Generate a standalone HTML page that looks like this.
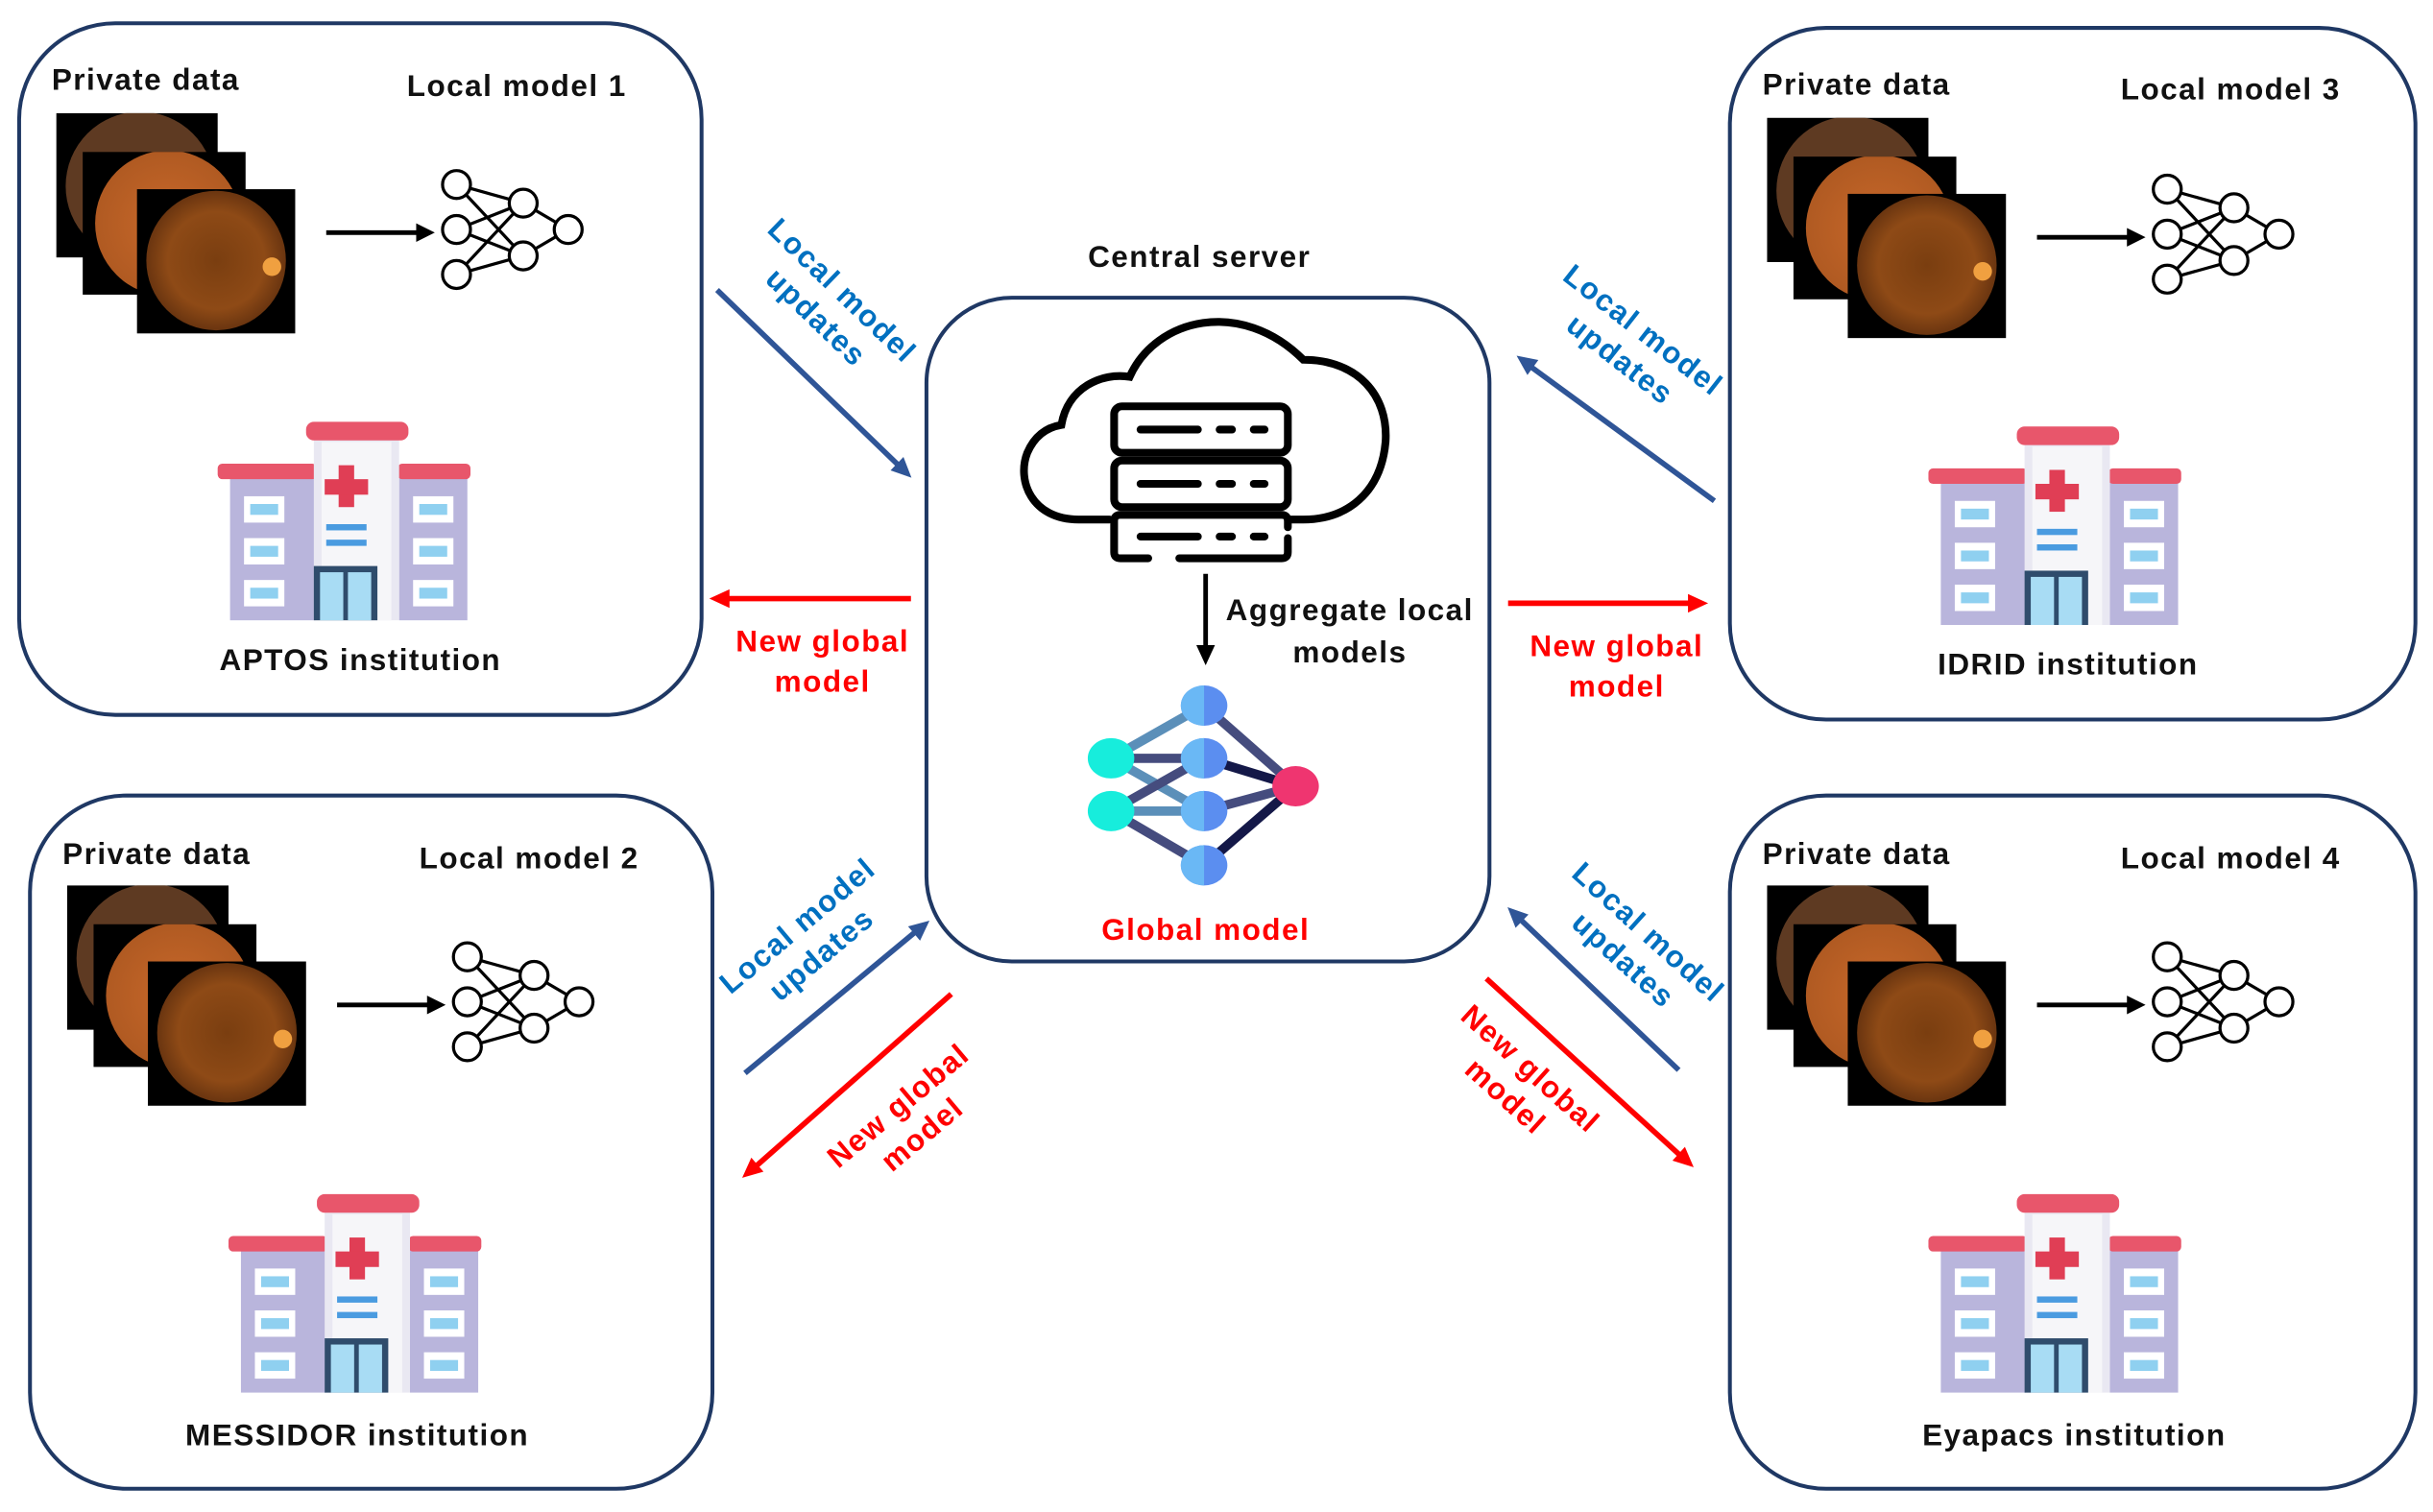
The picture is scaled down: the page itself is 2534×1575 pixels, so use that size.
<!DOCTYPE html>
<html><head><meta charset="utf-8"><style>
html,body{margin:0;padding:0;background:#fff;}
svg{display:block;}
text{font-family:"Liberation Sans",sans-serif;font-weight:bold;letter-spacing:0.9px;}
</style></head><body>
<svg width="2534" height="1575" viewBox="0 0 1568 975" xmlns="http://www.w3.org/2000/svg">
<defs>
  <radialGradient id="eye" cx="50%" cy="50%" r="50%">
    <stop offset="0" stop-color="#7a3e10"/><stop offset="0.7" stop-color="#8e4a16"/><stop offset="1" stop-color="#6a3510"/>
  </radialGradient>
  <radialGradient id="eye2" cx="50%" cy="50%" r="50%">
    <stop offset="0" stop-color="#c8682a"/><stop offset="1" stop-color="#b05a22"/>
  </radialGradient>
  <clipPath id="c1"><rect x="36" y="73" width="104" height="93"/></clipPath>
  <clipPath id="c2"><rect x="53" y="98" width="105" height="92"/></clipPath>
  <g id="content">
    <rect x="36" y="73" width="104" height="93" fill="#000"/>
    <circle cx="90" cy="120" r="48" fill="#5e3a22" clip-path="url(#c1)"/>
    <rect x="53" y="98" width="105" height="92" fill="#000"/>
    <circle cx="108" cy="144" r="47" fill="url(#eye2)" clip-path="url(#c2)"/>
    <rect x="88" y="122" width="102" height="93" fill="#000"/>
    <circle cx="139" cy="168" r="45" fill="url(#eye)"/>
    <circle cx="175" cy="172" r="6" fill="#f0a040"/>
    <line x1="210" y1="150" x2="270" y2="150" stroke="#000" stroke-width="3"/>
    <polygon points="268,144 280,150 268,156" fill="#000"/>
    <g stroke="#000" stroke-width="2" fill="#fff">
      <line x1="294" y1="119" x2="337" y2="131"/><line x1="294" y1="119" x2="337" y2="165"/>
      <line x1="294" y1="148" x2="337" y2="131"/><line x1="294" y1="148" x2="337" y2="165"/>
      <line x1="294" y1="177" x2="337" y2="131"/><line x1="294" y1="177" x2="337" y2="165"/>
      <line x1="337" y1="131" x2="366" y2="148"/><line x1="337" y1="165" x2="366" y2="148"/>
      <circle cx="294" cy="119" r="9"/><circle cx="294" cy="148" r="9"/><circle cx="294" cy="177" r="9"/>
      <circle cx="337" cy="131" r="9"/><circle cx="337" cy="165" r="9"/><circle cx="366" cy="148" r="9"/>
    </g>
    <rect x="148" y="308" width="55" height="92" fill="#b9b5dc"/>
    <rect x="257" y="308" width="44" height="92" fill="#b9b5dc"/>
    <rect x="140" y="299" width="64" height="10" rx="3" fill="#e8566b"/>
    <rect x="256" y="299" width="47" height="10" rx="3" fill="#e8566b"/>
    <rect x="202" y="283" width="55" height="117" fill="#e9e8f2"/>
    <rect x="207" y="285" width="45" height="115" fill="#f6f6f9"/>
    <rect x="197" y="272" width="66" height="12" rx="5" fill="#e8566b"/>
    <rect x="218" y="300" width="10" height="27" fill="#e03e55"/>
    <rect x="209" y="309" width="28" height="10" fill="#e03e55"/>
    <rect x="210" y="338" width="26" height="4" fill="#4a9be0"/>
    <rect x="210" y="348" width="26" height="4" fill="#4a9be0"/>
    <rect x="202" y="365" width="41" height="35" fill="#2f4c6c"/>
    <rect x="206" y="369" width="15" height="31" fill="#a8dcf4"/>
    <rect x="224" y="369" width="15" height="31" fill="#a8dcf4"/>
    <g fill="#fff"><rect x="157" y="320" width="26" height="17"/><rect x="157" y="347" width="26" height="17"/><rect x="157" y="374" width="26" height="17"/>
    <rect x="266" y="320" width="26" height="17"/><rect x="266" y="347" width="26" height="17"/><rect x="266" y="374" width="26" height="17"/></g>
    <g fill="#8fd0f0"><rect x="161" y="325" width="18" height="7"/><rect x="161" y="352" width="18" height="7"/><rect x="161" y="379" width="18" height="7"/>
    <rect x="270" y="325" width="18" height="7"/><rect x="270" y="352" width="18" height="7"/><rect x="270" y="379" width="18" height="7"/></g>
  </g>
</defs>

<g fill="none" stroke="#1f3864" stroke-width="2.5">
  <rect x="12" y="15" width="440" height="446" rx="62"/>
  <rect x="1115" y="18" width="442" height="446" rx="62"/>
  <rect x="19" y="513" width="440" height="447" rx="62"/>
  <rect x="1115" y="513" width="442" height="447" rx="62"/>
  <rect x="597" y="192" width="363" height="428" rx="55"/>
</g>

<use href="#content"/>
<use href="#content" transform="translate(1103,3)"/>
<use href="#content" transform="translate(7,498)"/>
<use href="#content" transform="translate(1103,498)"/>

<g font-size="19.5" fill="#111">
  <text x="33" y="58">Private data</text>
  <text x="262" y="62">Local model 1</text>
  <text x="232" y="432" text-anchor="middle">APTOS institution</text>
  <text x="1136" y="61">Private data</text>
  <text x="1367" y="64">Local model 3</text>
  <text x="1333" y="435" text-anchor="middle">IDRID institution</text>
  <text x="40" y="557">Private data</text>
  <text x="270" y="560">Local model 2</text>
  <text x="230" y="932" text-anchor="middle">MESSIDOR institution</text>
  <text x="1136" y="557">Private data</text>
  <text x="1367" y="560">Local model 4</text>
  <text x="1337" y="932" text-anchor="middle">Eyapacs institution</text>
  <text x="773" y="172" text-anchor="middle">Central server</text>
  <text x="790" y="400">Aggregate local</text>
  <text x="870" y="427" text-anchor="middle">models</text>
</g>
<text x="777" y="606" font-size="19.5" fill="#ff0000" text-anchor="middle">Global model</text>

<g fill="none" stroke="#000" stroke-width="5" stroke-linecap="round">
  <path d="M715,335 H695 C665,335 655,310 662,292 C668,278 678,275 684,274 C688,250 710,240 728,243 C745,205 800,192 840,232 C875,232 895,255 893,285 C890,318 868,335 840,335 H830"/>
  <rect x="718" y="262" width="112" height="30" rx="5" fill="#fff"/>
  <rect x="718" y="297" width="112" height="30" rx="5" fill="#fff"/>
  <path d="M740,360 H722 Q718,360 718,356 V336 Q718,332 722,332 H826 Q830,332 830,336 V340 M830,347 V356 Q830,360 826,360 H760"/>
  <line x1="735" y1="277" x2="772" y2="277"/><line x1="786" y1="277" x2="794" y2="277"/><line x1="808" y1="277" x2="815" y2="277"/>
  <line x1="735" y1="312" x2="772" y2="312"/><line x1="786" y1="312" x2="794" y2="312"/><line x1="808" y1="312" x2="815" y2="312"/>
  <line x1="735" y1="346" x2="772" y2="346"/><line x1="786" y1="346" x2="794" y2="346"/><line x1="808" y1="346" x2="815" y2="346"/>
</g>
<line x1="777" y1="370" x2="777" y2="420" stroke="#000" stroke-width="3"/>
<polygon points="771,416 777,429 783,416" fill="#000"/>

<g stroke-width="6">
  <line x1="716" y1="489" x2="776" y2="455" stroke="#5b8fb9"/>
  <line x1="716" y1="489" x2="776" y2="489" stroke="#454c7e"/>
  <line x1="716" y1="489" x2="776" y2="523" stroke="#5b8fb9"/>
  <line x1="716" y1="523" x2="776" y2="489" stroke="#454c7e"/>
  <line x1="716" y1="523" x2="776" y2="523" stroke="#5b8fb9"/>
  <line x1="716" y1="523" x2="776" y2="558" stroke="#454c7e"/>
  <line x1="776" y1="455" x2="835" y2="507" stroke="#454c7e"/>
  <line x1="776" y1="489" x2="835" y2="507" stroke="#141848"/>
  <line x1="776" y1="523" x2="835" y2="507" stroke="#454c7e"/>
  <line x1="776" y1="558" x2="835" y2="507" stroke="#141848"/>
</g>
<g>
  <ellipse cx="716" cy="489" rx="15" ry="13" fill="#17eddc"/>
  <ellipse cx="716" cy="523" rx="15" ry="13" fill="#17eddc"/>
  <ellipse cx="835" cy="507" rx="15" ry="13" fill="#ef3570"/>
  <g id="bn"><ellipse cx="776" cy="455" rx="15" ry="13" fill="#5b8ef0"/><path d="M776,442 A15,13 0 0,0 776,468 Z" fill="#6ab8f5"/></g>
  <use href="#bn" transform="translate(0,34)"/><use href="#bn" transform="translate(0,68)"/><use href="#bn" transform="translate(0,103)"/>
</g>

<g stroke-width="3.5">
  <line x1="462" y1="187" x2="580" y2="301" stroke="#2f5597"/>
  <line x1="1105" y1="323" x2="986" y2="236" stroke="#2f5597"/>
  <line x1="480" y1="692" x2="591" y2="600" stroke="#2f5597"/>
  <line x1="1082" y1="690" x2="979" y2="592" stroke="#2f5597"/>
  <line x1="587" y1="386" x2="468" y2="386" stroke="#ff0000"/>
  <line x1="972" y1="389" x2="1090" y2="389" stroke="#ff0000"/>
  <line x1="613" y1="641" x2="486" y2="753" stroke="#ff0000"/>
  <line x1="958" y1="631" x2="1084" y2="746" stroke="#ff0000"/>
</g>
<g>
  <polygon points="0,-6 13,0 0,6" fill="#2f5597" transform="translate(578,299) rotate(44)"/>
  <polygon points="0,-6 13,0 0,6" fill="#2f5597" transform="translate(988,237) rotate(216)"/>
  <polygon points="0,-6 13,0 0,6" fill="#2f5597" transform="translate(589,602) rotate(-40)"/>
  <polygon points="0,-6 13,0 0,6" fill="#2f5597" transform="translate(981,594) rotate(224)"/>
  <polygon points="0,-6 13,0 0,6" fill="#ff0000" transform="translate(470,386) rotate(180)"/>
  <polygon points="0,-6 13,0 0,6" fill="#ff0000" transform="translate(1088,389)"/>
  <polygon points="0,-6 13,0 0,6" fill="#ff0000" transform="translate(488,751) rotate(139)"/>
  <polygon points="0,-6 13,0 0,6" fill="#ff0000" transform="translate(1082,744) rotate(42)"/>
</g>

<g font-size="19.5" text-anchor="middle">
  <g fill="#0070c0">
    <text transform="translate(538,192) rotate(44)"><tspan x="0" y="0">Local model</tspan><tspan x="0" y="24">updates</tspan></text>
    <text transform="translate(1055,218) rotate(38)"><tspan x="0" y="0">Local model</tspan><tspan x="0" y="24">updates</tspan></text>
    <text transform="translate(518,602) rotate(-40)"><tspan x="0" y="0">Local model</tspan><tspan x="0" y="24">updates</tspan></text>
    <text transform="translate(1058,606) rotate(42)"><tspan x="0" y="0">Local model</tspan><tspan x="0" y="24">updates</tspan></text>
  </g>
  <g fill="#ff0000">
    <text x="530" y="420">New global</text><text x="530" y="446">model</text>
    <text x="1042" y="423">New global</text><text x="1042" y="449">model</text>
    <text transform="translate(583,718) rotate(-40)"><tspan x="0" y="0">New global</tspan><tspan x="0" y="24">model</tspan></text>
    <text transform="translate(982,694) rotate(42)"><tspan x="0" y="0">New global</tspan><tspan x="0" y="24">model</tspan></text>
  </g>
</g>
</svg>
</body></html>
